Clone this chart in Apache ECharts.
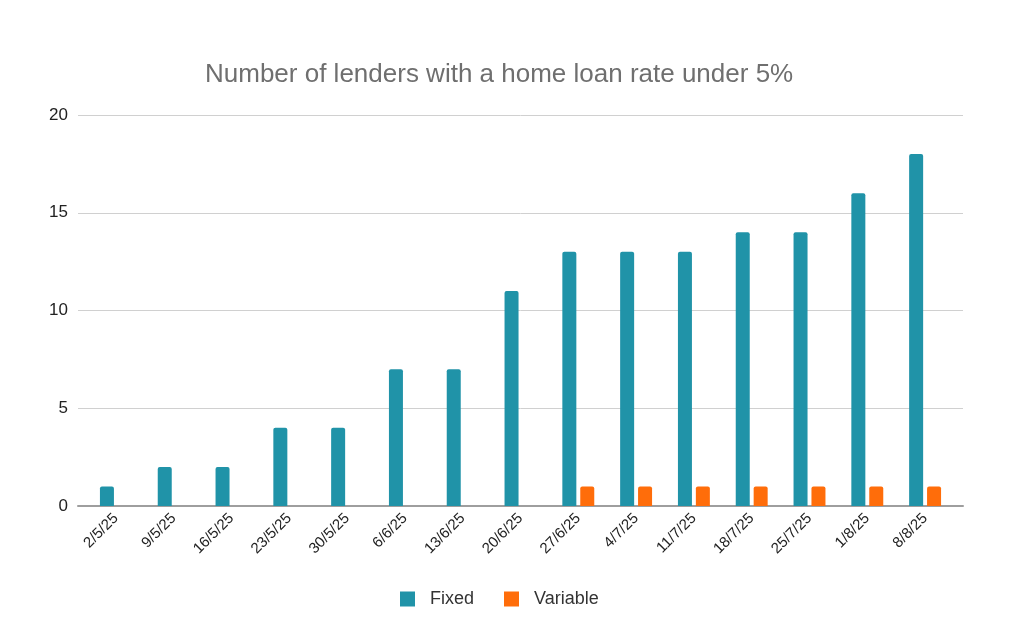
<!DOCTYPE html>
<html>
<head>
<meta charset="utf-8">
<script src="https://cdn.jsdelivr.net/npm/echarts@6/dist/echarts.min.js"></script>
<style>
  html, body { margin: 0; padding: 0; background: #fff; }
  #chart { width: 1024px; height: 633px; }
</style>
</head>
<body>
<div id="chart"></div>
<script>
// weekly snapshot dates
var dates = ['2/5/25', '9/5/25', '16/5/25', '23/5/25', '30/5/25', '6/6/25', '13/6/25', '20/6/25',
  '27/6/25', '4/7/25', '11/7/25', '18/7/25', '25/7/25', '1/8/25', '8/8/25'];
var fixedCounts = [1, 2, 2, 4, 4, 7, 7, 11, 13, 13, 13, 14, 14, 16, 18];
var variableCounts = [0, 0, 0, 0, 0, 0, 0, 0, 1, 1, 1, 1, 1, 1, 1];
var yTicks = { min: 0, max: 20, interval: 5 };

var chart = echarts.init(document.getElementById('chart'), null, { renderer: 'canvas' });

var option = {
  backgroundColor: '#ffffff',
  textStyle: { fontFamily: 'Liberation Sans, Arial, sans-serif' },
  title: {
    text: 'Number of lenders with a home loan rate under 5%',
    left: 200,
    top: 57,
    textStyle: { color: '#6f6f6f', fontSize: 26, fontWeight: 'normal' }
  },
  legend: {
    bottom: 20,
    left: 395,
    itemWidth: 15,
    itemHeight: 15,
    itemGap: 30,
    icon: 'rect',
    textStyle: { color: '#333', fontSize: 18, padding: [0, 0, 0, 10] },
    data: ['Fixed', 'Variable']
  },
  // grid 0 = wide gridlines + baseline, grid 1 = the bars
  grid: [
    { left: 78, right: 61, top: 115, bottom: 127 },
    { left: 87, right: 70, top: 115, bottom: 127 }
  ],
  xAxis: [
    {
      gridIndex: 0,
      type: 'value',
      min: 0,
      max: 1,
      axisLine: { show: true, lineStyle: { color: '#9e9e9e', width: 2 } },
      axisTick: { show: false },
      axisLabel: { show: false },
      splitLine: { show: false }
    },
    {
      gridIndex: 1,
      type: 'category',
      data: dates,
      axisTick: { show: false },
      axisLine: { show: false },
      axisLabel: { rotate: 45, color: '#222', fontSize: 15, margin: 10, interval: 0 }
    }
  ],
  yAxis: [
    {
      gridIndex: 0,
      type: 'value',
      min: yTicks.min,
      max: yTicks.max,
      interval: yTicks.interval,
      axisLine: { show: false },
      axisTick: { show: false },
      axisLabel: { color: '#222', fontSize: 17, margin: 10 },
      splitLine: { lineStyle: { color: '#d0d0d0', width: 1 } }
    },
    {
      gridIndex: 1,
      type: 'value',
      min: yTicks.min,
      max: yTicks.max,
      interval: yTicks.interval,
      show: false,
      splitLine: { show: false }
    }
  ],
  series: [
    {
      name: 'Fixed',
      type: 'bar',
      xAxisIndex: 1,
      yAxisIndex: 1,
      data: fixedCounts,
      barWidth: 14,
      barGap: '28%',
      itemStyle: { color: '#2093a8', borderRadius: [2, 2, 0, 0] }
    },
    {
      name: 'Variable',
      type: 'bar',
      xAxisIndex: 1,
      yAxisIndex: 1,
      data: variableCounts,
      barWidth: 14,
      itemStyle: { color: '#ff6d0a', borderRadius: [2, 2, 0, 0] }
    }
  ]
};

chart.setOption(option);
</script>
</body>
</html>
